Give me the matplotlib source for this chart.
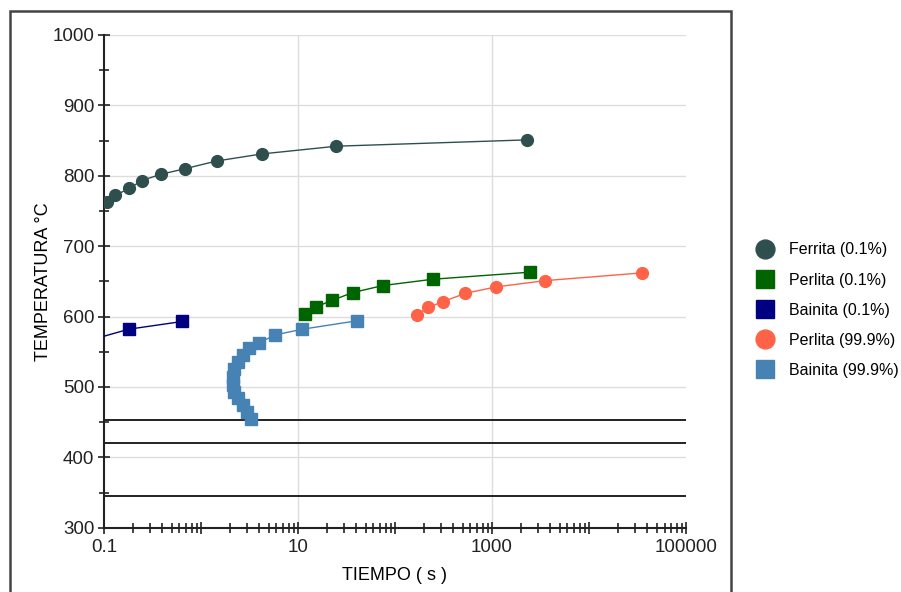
import numpy as np
import matplotlib.pyplot as plt
from matplotlib.patches import Rectangle
from matplotlib.ticker import LogLocator, FixedLocator, NullFormatter, FuncFormatter

plt.rcParams['font.family'] = ['Liberation Sans', 'DejaVu Sans']

# datos (tiempo en s, temperatura en C)
ferrita_t = [0.08, 0.107, 0.129, 0.183, 0.244, 0.383, 0.684, 1.45, 4.24, 24.9, 2320]
ferrita_T = [752, 763, 772, 782, 793, 802, 810, 821, 831, 842, 851]

perlita01_t = [11.9, 15.5, 22.5, 36.5, 74.8, 245, 2450]
perlita01_T = [603, 614, 623, 634, 644, 653, 663]

bainita01_t = [0.07, 0.18, 0.643]
bainita01_T = [566, 582, 593]

perlita99_t = [168, 219, 310, 532, 1090, 3510, 35200]
perlita99_T = [602, 613, 621, 633, 642, 651, 662]

bainita99_t = [3.28, 2.98, 2.69, 2.39, 2.2, 2.12, 2.12, 2.2, 2.39, 2.69, 3.1, 4.0, 5.86, 11.1, 40.8]
bainita99_T = [455, 465, 474, 484, 493, 503, 514, 526, 536, 545, 555, 563, 574, 582, 594]

lineas_T = [453, 420, 345]

series = [
    ("Ferrita (0.1%)", ferrita_t, ferrita_T, "#2f4f4f", "o"),
    ("Perlita (0.1%)", perlita01_t, perlita01_T, "#006400", "s"),
    ("Bainita (0.1%)", bainita01_t, bainita01_T, "#000080", "s"),
    ("Perlita (99.9%)", perlita99_t, perlita99_T, "#ff6347", "o"),
    ("Bainita (99.9%)", bainita99_t, bainita99_T, "#4682b4", "s"),
]

fig = plt.figure(figsize=(9.01, 5.92), dpi=100)
ax = fig.add_axes([0.1154, 0.1086, 0.6460, 0.8323])

# marco exterior
fig.patches.append(Rectangle((10 / 901, -0.05), 721 / 901, 1.05 - 11 / 592,
                             transform=fig.transFigure, fill=False,
                             edgecolor="#444444", linewidth=1.8))

ax.set_xscale("log")
ax.set_xlim(0.1, 100000)
ax.set_ylim(300, 1000)

ax.set_yticks(np.arange(300, 1001, 100))
ax.yaxis.set_minor_locator(FixedLocator(np.arange(350, 1000, 100)))
ax.xaxis.set_major_locator(LogLocator(base=10, numticks=20))
ax.xaxis.set_minor_locator(LogLocator(base=10, subs=np.arange(2, 10), numticks=20))
ax.xaxis.set_minor_formatter(NullFormatter())
labels_x = {0.1: "0.1", 10: "10", 1000: "1000", 100000: "100000"}
ax.xaxis.set_major_formatter(FuncFormatter(
    lambda v, p: next((s for k, s in labels_x.items() if abs(np.log10(v) - np.log10(k)) < 1e-6), "")))

ax.tick_params(which="both", direction="inout", width=1.2, colors="#222222", labelsize=13.5)
ax.tick_params(which="major", length=8, pad=3)
ax.tick_params(which="minor", length=7)
ax.tick_params(axis="x", which="major", pad=4)

for s in ["top", "right"]:
    ax.spines[s].set_visible(False)
for s in ["left", "bottom"]:
    ax.spines[s].set_linewidth(1.5)
    ax.spines[s].set_color("#222222")

# rejilla
for yv in range(400, 1001, 100):
    ax.axhline(yv, color="#dddddd", linewidth=1, zorder=0)
for xv in [10, 1000]:
    ax.axvline(xv, color="#dddddd", linewidth=1, zorder=0)

for yv in lineas_T:
    ax.axhline(yv, color="#222222", linewidth=1.4, zorder=2)

for name, t, T, c, m in series:
    ax.plot(t, T, color=c, linewidth=1, zorder=3)
    ax.plot(t, T, linestyle="none", marker=m, markersize=8.5, color=c, zorder=4, label=name)

ax.set_xlabel("TIEMPO ( s )", fontsize=13, labelpad=8)
ax.set_ylabel("TEMPERATURA °C", fontsize=13, labelpad=0)

h, l = ax.get_legend_handles_labels()
leg = fig.legend(h, l, loc="center left", bbox_to_anchor=(0.831, 0.476), frameon=False,
                 fontsize=11.5, markerscale=1.6, handlelength=1.2, handletextpad=0.9,
                 labelspacing=0.95, borderaxespad=0)

fig.savefig("out.png", dpi=100)
